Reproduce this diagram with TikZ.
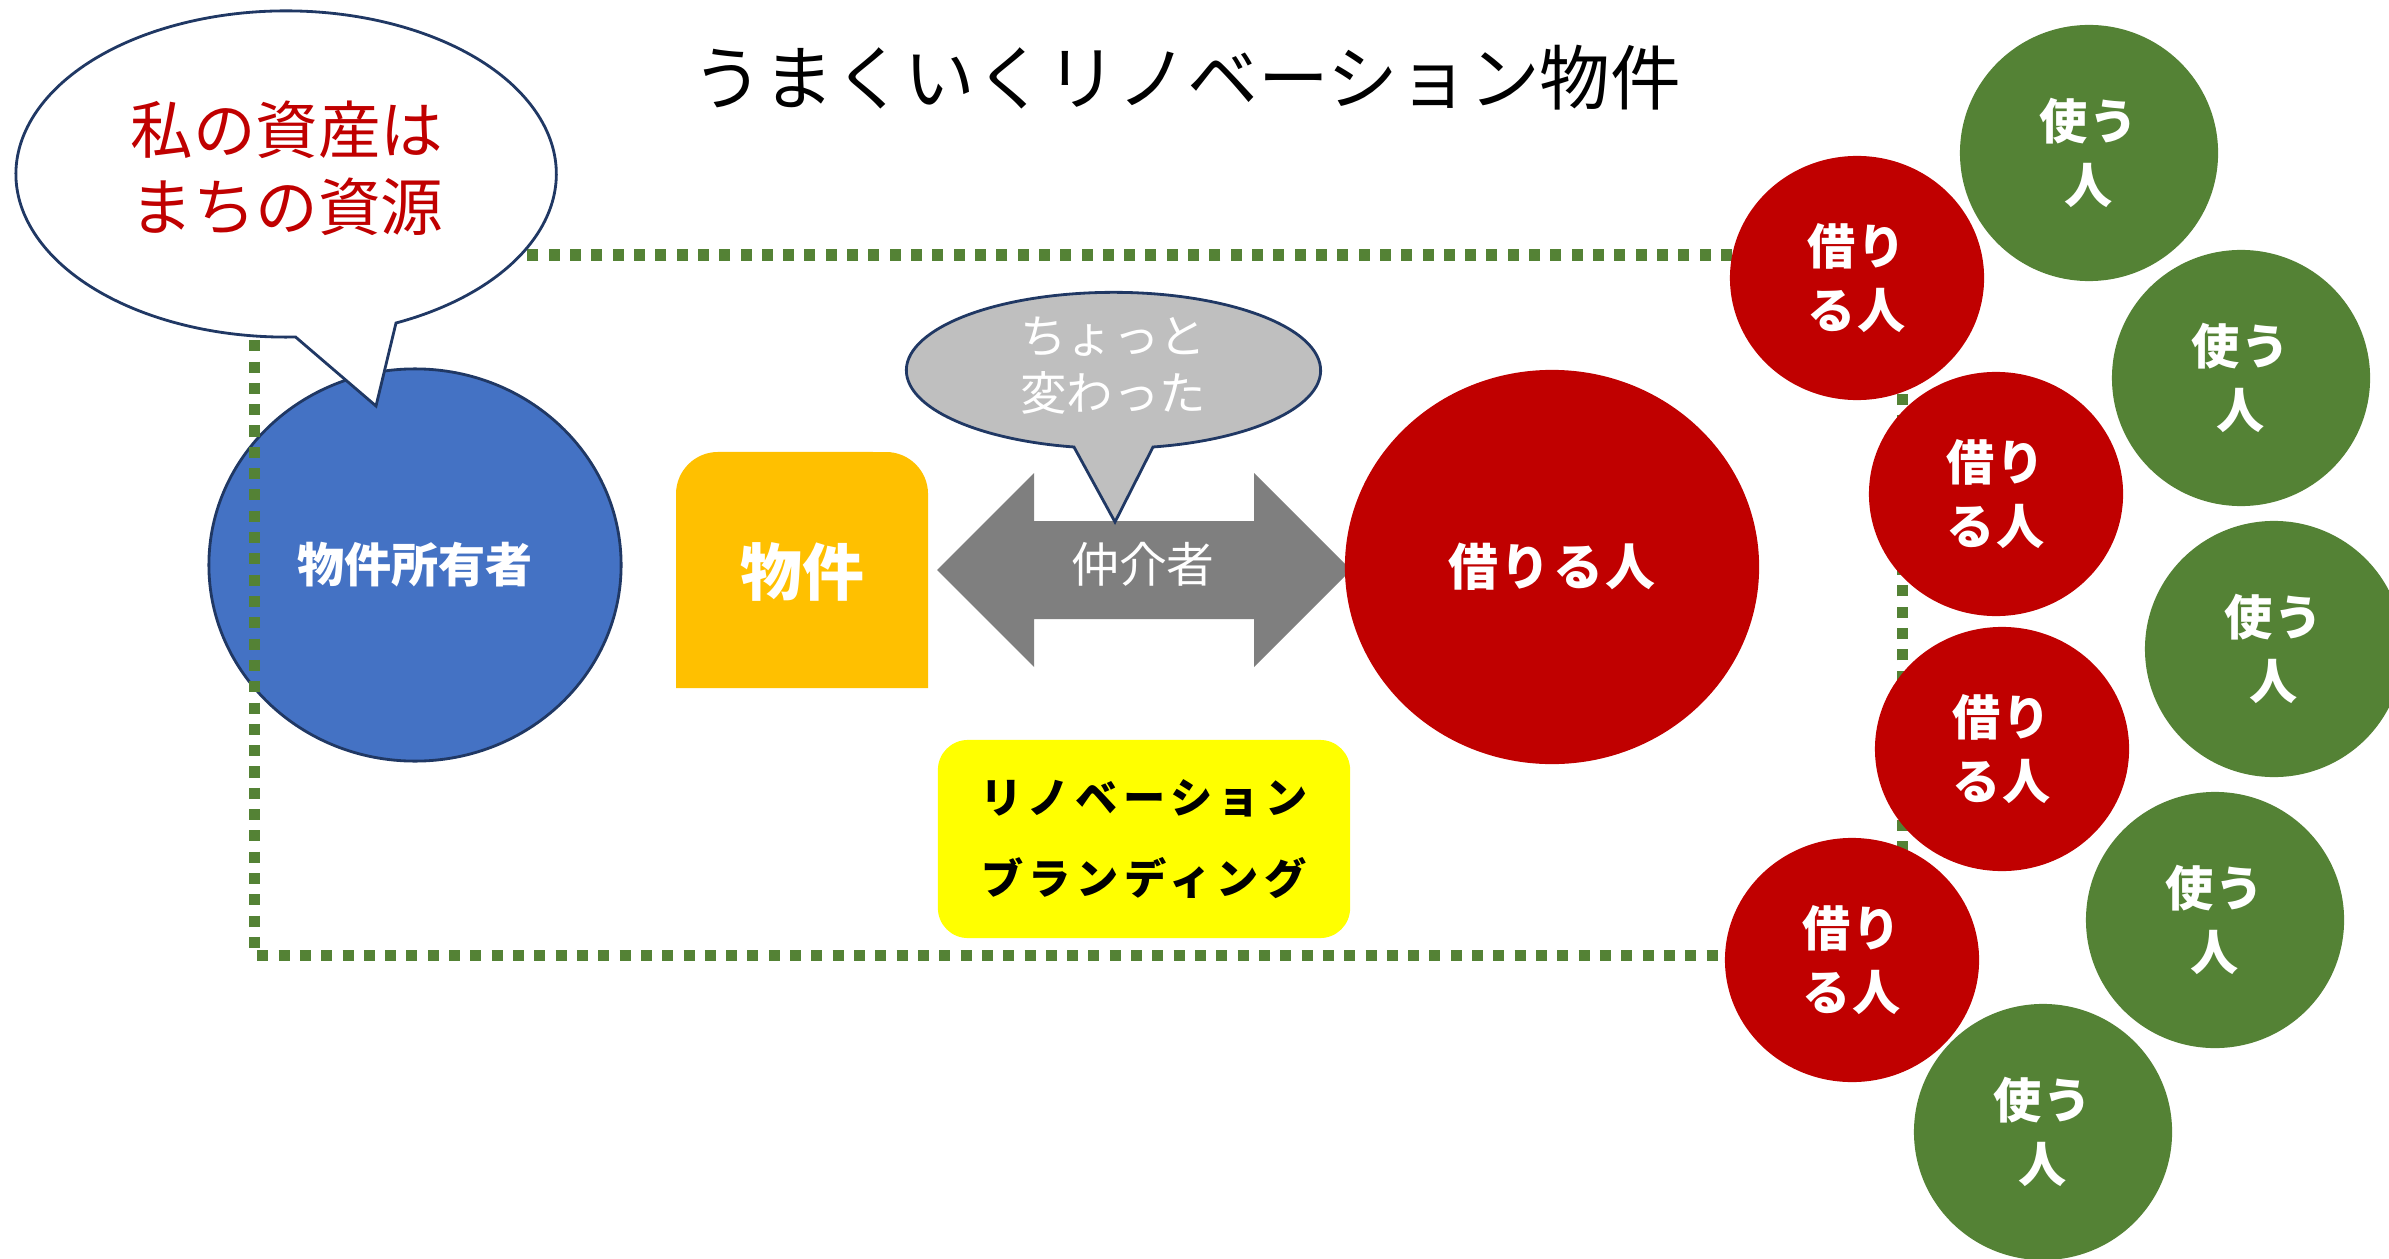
\documentclass[tikz,border=0pt]{standalone}
\usepackage{fontspec}
\setmainfont{Noto Sans CJK JP}
\usepackage{tikz}
\usetikzlibrary{shapes.geometric}
\definecolor{edgenavy}{HTML}{203864}
\definecolor{ownerblue}{HTML}{4472C4}
\definecolor{propertyorange}{HTML}{FFC000}
\definecolor{brokergray}{HTML}{7F7F7F}
\definecolor{bubblegray}{HTML}{BFBFBF}
\definecolor{renterred}{HTML}{C00000}
\definecolor{usergreen}{HTML}{548235}
\definecolor{brandyellow}{HTML}{FFFF00}

\begin{document}
\begin{tikzpicture}[x=0.01cm, y=0.01cm,
  circ/.style={ellipse, inner sep=0pt, align=center, text=white,
    font=\bfseries\fontsize{13.7}{18.2}\selectfont\addfontfeature{LetterSpace=4}},
  renter/.style={circ, fill=renterred, minimum width=2.54cm, minimum height=2.44cm},
  user/.style={circ, fill=usergreen, minimum width=2.58cm, minimum height=2.56cm},
  talk/.style={draw=edgenavy, line width=0.8pt},
  frame/.style={usergreen, line width=0.11cm, dash pattern=on 0.11cm off 0.103cm}]
  \useasboundingbox (0,0) rectangle (2389,-1258);

  % タイトル
  \node (title) at (1187,-78) {\fontsize{20.1}{24}\selectfont うまくいくリノベーション物件};

  % 物件所有者
  \node[ellipse, draw=edgenavy, line width=0.8pt, fill=ownerblue, minimum width=4.12cm,
    minimum height=3.92cm, text=white, font=\bfseries\fontsize{13.4}{16}\selectfont]
    (owner) at (415,-565) {物件所有者};

  % 点線の枠
  \draw[frame] (254,-255) rectangle (1902,-955);

  % 吹き出し
  \draw[talk, fill=white] (396,-323) arc[start angle=-66, end angle=272, x radius=2.7cm, y radius=1.63cm]
    -- (376,-406) -- cycle;
  \node[text=renterred, align=center, font=\fontsize{17.8}{21.9}\selectfont] (mine) at (287,-168)
    {私の資産は\\まちの資源};

  % 物件
  \fill[propertyorange] (676,-688) -- (676,-494) arc[start angle=180, end angle=90, radius=0.42cm]
    -- (886,-452) arc[start angle=90, end angle=0, radius=0.42cm] -- (928,-688) -- cycle;
  \node[text=white, font=\bfseries\fontsize{17.6}{20}\selectfont] (property) at (802,-572) {物件};

  % 仲介者
  \fill[brokergray] (937,-570) -- (1034,-473) -- (1034,-521) -- (1254,-521) -- (1254,-473)
    -- (1351,-570) -- (1254,-667) -- (1254,-619) -- (1034,-619) -- (1034,-667) -- cycle;
  \node[text=white, font=\fontsize{13.6}{16}\selectfont] (broker) at (1143,-564) {仲介者};

  \draw[talk, fill=bubblegray] (1153,-447) arc[start angle=-79, end angle=259, x radius=2.07cm, y radius=0.78cm]
    -- (1115,-522) -- cycle;
  \node[text=white, align=center, font=\fontsize{13.2}{16.2}\selectfont] (odd) at (1113,-366)
    {ちょっと\\変わった};

  % 借りる人
  \node[ellipse, fill=renterred, minimum width=4.14cm, minimum height=3.94cm, text=white,
    font=\bfseries\fontsize{14.2}{17}\selectfont\addfontfeature{LetterSpace=5}]
    (tenant) at (1552,-567) {借りる人};

  \node[rectangle, rounded corners=0.3cm, fill=brandyellow, minimum width=4.12cm, minimum height=1.98cm,
    align=center, font=\bfseries\fontsize{12}{23}\selectfont\addfontfeature{LetterSpace=13}]
    (brand) at (1144,-839) {リノベーション\\ブランディング};

  % 借りる人・使う人
  \foreach \n/\x/\y in {1/1857/278, 2/1996/494, 3/2002/749, 4/1852/960}
    \node[renter] (renter\n) at (\x,-\y) {借り\\る人};
  \foreach \n/\x/\y in {1/2089/153, 2/2241/378, 3/2274/649, 4/2215/920, 5/2043/1132}
    \node[user] (user\n) at (\x,-\y) {使う\\人};

\end{tikzpicture}
\end{document}
